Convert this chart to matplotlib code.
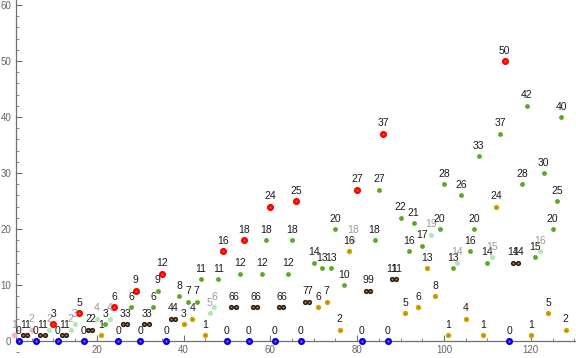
import matplotlib.pyplot as plt
from matplotlib.ticker import MultipleLocator

# one value per n = 1..128, and the group each point belongs to
n = list(range(1, 129))
values = [1, 0, 1, 1, 2, 0, 1, 1, 2, 3,
          0, 1, 1, 2, 3, 5, 0, 2, 2, 4,
          1, 3, 4, 6, 0, 3, 3, 6, 9, 0,
          3, 3, 6, 9, 12, 0, 4, 4, 8, 3,
          7, 4, 7, 11, 1, 5, 6, 11, 16, 0,
          6, 6, 12, 18, 0, 6, 6, 12, 18, 24,
          0, 6, 6, 12, 18, 25, 0, 7, 7, 14,
          6, 13, 7, 13, 20, 2, 10, 16, 18, 27,
          0, 9, 9, 18, 27, 37, 0, 11, 11, 22,
          5, 16, 21, 6, 17, 13, 19, 8, 20, 28,
          1, 13, 14, 26, 4, 16, 20, 33, 1, 14,
          15, 24, 37, 50, 0, 14, 14, 28, 42, 1,
          15, 16, 30, 5, 20, 25, 40, 2]
groups = ["pink", "blue", "black", "black", "pink", "blue", "black", "black", "light", "red",
          "blue", "black", "black", "light", "light", "red", "blue", "black", "black", "light",
          "yellow", "green", "light", "red", "blue", "black", "black", "green", "red", "blue",
          "black", "black", "green", "green", "red", "blue", "black", "black", "green", "yellow",
          "green", "yellow", "green", "green", "yellow", "light", "light", "green", "red", "blue",
          "black", "black", "green", "red", "blue", "black", "black", "green", "green", "red",
          "blue", "black", "black", "green", "green", "red", "blue", "black", "black", "green",
          "yellow", "green", "yellow", "green", "green", "yellow", "green", "yellow", "light", "red",
          "blue", "black", "black", "green", "green", "red", "blue", "black", "black", "green",
          "yellow", "green", "green", "yellow", "green", "yellow", "light", "yellow", "green", "green",
          "yellow", "green", "light", "green", "yellow", "green", "green", "green", "yellow", "green",
          "light", "yellow", "green", "red", "blue", "black", "black", "green", "green", "yellow",
          "green", "light", "green", "yellow", "green", "green", "green", "yellow"]

colors = {"red": "#ff0000", "blue": "#0000ff", "black": "#1c1c1c", "green": "#2dbb2d",
          "yellow": "#c9ae00", "light": "#b4e6b4", "pink": "#ffb0b0"}
sizes = {"red": 26, "blue": 26, "black": 14, "green": 12, "yellow": 15, "light": 13, "pink": 16}

plt.rcParams["font.family"] = ["Liberation Sans", "DejaVu Sans"]

fig = plt.figure(figsize=(5.76, 3.58), dpi=100)
ax = fig.add_axes([0, 0, 1, 1])

for g in colors:
    xs = [a for a, k in zip(n, groups) if k == g]
    ys = [v for v, k in zip(values, groups) if k == g]
    ax.scatter(xs, ys, s=sizes[g], color=colors[g], linewidths=0, zorder=3, clip_on=False)
    if g not in ("light", "pink"):
        ax.scatter(xs, ys, s=2.5, color="#e06a10", linewidths=0, zorder=4, clip_on=False)

for a, v, k in zip(n, values, groups):
    c = "#9a9a9a" if k in ("light", "pink") else "#1a1a1a"
    ax.annotate(str(v), (a, v), xytext=(0, 7.5), textcoords="offset points",
                ha="center", va="center", fontsize=7.5, color=c, zorder=5)

ax.set_xlim(-2.28, 130.4)
ax.set_ylim(-3.04, 60.9)

for s in ("top", "right"):
    ax.spines[s].set_visible(False)
ax.spines["left"].set_position(("data", 1.3))
ax.spines["bottom"].set_position(("data", 0))
ax.spines["left"].set_bounds(0, 60.9)
ax.spines["bottom"].set_bounds(1.3, 130.4)
for s in ("left", "bottom"):
    ax.spines[s].set_color("#707070")
    ax.spines[s].set_linewidth(0.9)

ax.set_xticks([20, 40, 60, 80, 100, 120])
ax.set_xticks([x for x in range(5, 131, 5) if x % 20 != 0], minor=True)
ax.set_yticks([0, 10, 20, 30, 40, 50, 60])
ax.yaxis.set_minor_locator(MultipleLocator(2))
ax.tick_params(which="both", direction="in", color="#707070", labelcolor="#666666",
               labelsize=7, pad=3)
ax.tick_params(which="major", length=4, width=0.8)
ax.tick_params(which="minor", length=2.3, width=0.6)

fig.savefig("out.png", dpi=100)
